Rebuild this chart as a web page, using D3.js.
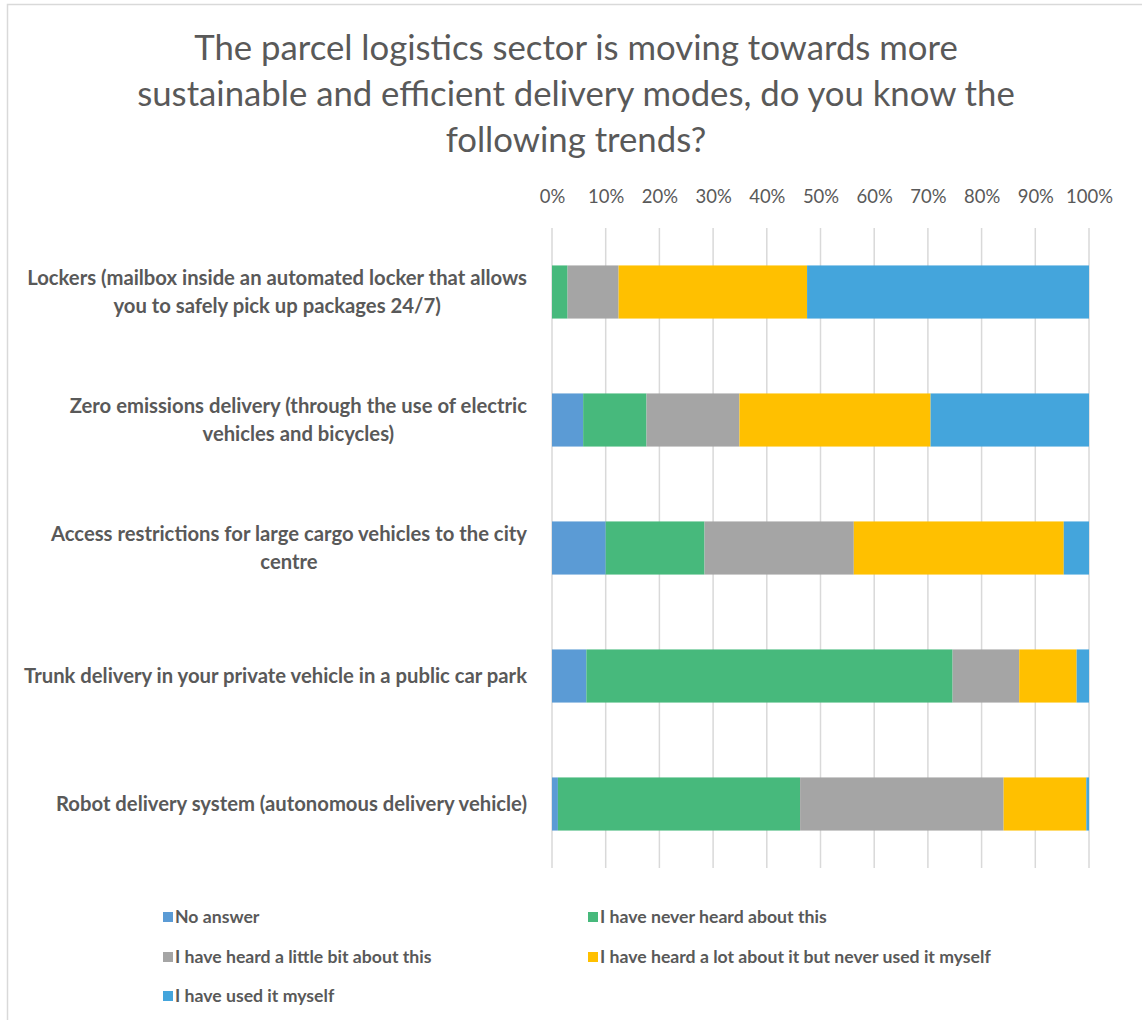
<!DOCTYPE html>
<html>
<head>
<meta charset="utf-8">
<script src="https://cdn.jsdelivr.net/npm/d3@7/dist/d3.min.js"></script>
<style>
  html, body { margin: 0; padding: 0; background: #fff; }
  svg { display: block; }
</style>
</head>
<body>
<svg id="chart" width="1142" height="1020"></svg>
<script>
// ---- data ----
const titleLines = [
  "The parcel logistics sector is moving towards more",
  "sustainable and efficient delivery modes, do you know the",
  "following trends?"
];
const categories = [
  "Lockers (mailbox inside an automated locker that allows you to safely pick up packages 24/7)",
  "Zero emissions delivery (through the use of electric vehicles and bicycles)",
  "Access restrictions for large cargo vehicles to the city centre",
  "Trunk delivery in your private vehicle in a public car park",
  "Robot delivery system (autonomous delivery vehicle)"
];
const categoryLines = [
  ["Lockers (mailbox inside an automated locker that allows", "you to safely pick up packages 24/7)"],
  ["Zero emissions delivery (through the use of electric", "vehicles and bicycles)"],
  ["Access restrictions for large cargo vehicles to the city", "centre"],
  ["Trunk delivery in your private vehicle in a public car park"],
  ["Robot delivery system (autonomous delivery vehicle)"]
];
const seriesNames = [
  "No answer",
  "I have never heard about this",
  "I have heard a little bit about this",
  "I have heard a lot about it but never used it myself",
  "I have used it myself"
];
const seriesColors = ["#5B9BD5", "#47B97C", "#A5A5A5", "#FFC000", "#44A5DC"];
const noAnswer     = [0.0, 5.8, 10.0, 6.4, 1.1];
const neverHeard   = [2.9, 11.8, 18.4, 68.2, 45.1];
const heardLittle  = [9.5, 17.3, 27.8, 12.4, 37.9];
const heardLot     = [35.1, 35.6, 39.1, 10.7, 15.4];
const usedIt       = [52.5, 29.5, 4.7, 2.3, 0.5];
const seriesValues = [noAnswer, neverHeard, heardLittle, heardLot, usedIt];
const tickValues = [0, 10, 20, 30, 40, 50, 60, 70, 80, 90, 100];

// ---- layout ----
const svg = d3.select("#chart");
const FONT = "Lato, 'Open Sans', sans-serif";
const TXT = "#595959";

// chart border
svg.append("rect").attr("x", 7.5).attr("y", 4.5).attr("width", 1200).attr("height", 1100)
  .attr("fill", "none").attr("stroke", "#d9d9d9").attr("stroke-width", 1.5);

function fitSize(sel, targetWidth, base) {
  sel.attr("font-size", base);
  const w = sel.node().getComputedTextLength();
  return base * targetWidth / w;
}

// title
const title = svg.append("g").attr("font-family", FONT).attr("fill", TXT);
const tl = title.selectAll("text").data(titleLines).join("text")
  .attr("x", 576).attr("y", (d, i) => 60 + i * 46)
  .attr("text-anchor", "middle").text(d => d);
const tSize = fitSize(tl.filter((d, i) => i === 1), 878, 30);
tl.attr("font-size", tSize);

const x = d3.scaleLinear().domain([0, 100]).range([552, 1089]);
const y = d3.scaleBand().domain(categories).range([228, 868]).paddingInner(0.585).paddingOuter(0.2925);

// gridlines
svg.append("g").selectAll("line").data(tickValues).join("line")
  .attr("x1", d => x(d)).attr("x2", d => x(d)).attr("y1", 228).attr("y2", 868)
  .attr("stroke", "#d9d9d9").attr("stroke-width", 1.5);

// top axis
const axis = d3.axisTop(x).tickValues(tickValues).tickFormat(d => d + "%").tickSize(0).tickPadding(0);
const ag = svg.append("g").attr("transform", "translate(0,203)").call(axis);
ag.select(".domain").remove();
ag.selectAll("text").attr("font-family", FONT).attr("fill", TXT).attr("dy", 0);
const axSize = fitSize(ag.selectAll("text").filter(d => d === 100), 47, 20);
ag.selectAll("text").attr("font-size", axSize);
ag.attr("font-size", null);

// stacked bars
const stackData = categories.map((c, i) => {
  const o = { cat: c };
  seriesNames.forEach((s, j) => o[s] = seriesValues[j][i]);
  return o;
});
const stacked = d3.stack().keys(seriesNames)(stackData);
svg.append("g").selectAll("g").data(stacked).join("g")
  .attr("fill", (d, i) => seriesColors[i])
  .selectAll("rect").data(d => d).join("rect")
  .attr("x", d => x(d[0]))
  .attr("width", d => Math.max(0, x(d[1]) - x(d[0])))
  .attr("y", d => y(d.data.cat))
  .attr("height", y.bandwidth());

// category labels
const labG = svg.append("g").attr("font-family", FONT).attr("font-weight", "bold").attr("fill", TXT);
const probe = labG.append("text").text(categoryLines[3][0]);
const labSize = fitSize(probe, 503, 17);
probe.remove();
const lineH = 28;
categoryLines.forEach((lines, i) => {
  const cy = y(categories[i]) + y.bandwidth() / 2;
  const g = labG.append("g");
  const texts = g.selectAll("text").data(lines).join("text")
    .attr("font-size", labSize).text(d => d)
    .attr("y", (d, k) => cy + (k - (lines.length - 1) / 2) * lineH + labSize * 0.35);
  const widths = texts.nodes().map(n => n.getComputedTextLength());
  const bw = d3.max(widths);
  const center = 527 - bw / 2;
  texts.attr("x", center).attr("text-anchor", "middle");
});

// legend
const legendPos = [[163, 917], [588, 917], [163, 957], [588, 957], [163, 996]];
const lg = svg.append("g").attr("font-family", FONT).attr("font-weight", "bold").attr("fill", TXT);
const lprobe = lg.append("text").text(seriesNames[3]);
const legSize = fitSize(lprobe, 391, 15);
lprobe.remove();
seriesNames.forEach((s, i) => {
  const [lx, ly] = legendPos[i];
  lg.append("rect").attr("x", lx).attr("y", ly - 5).attr("width", 10).attr("height", 10).attr("fill", seriesColors[i]);
  lg.append("text").attr("x", lx + 12).attr("y", ly + legSize * 0.35).attr("font-size", legSize).text(s);
});
</script>
</body>
</html>
